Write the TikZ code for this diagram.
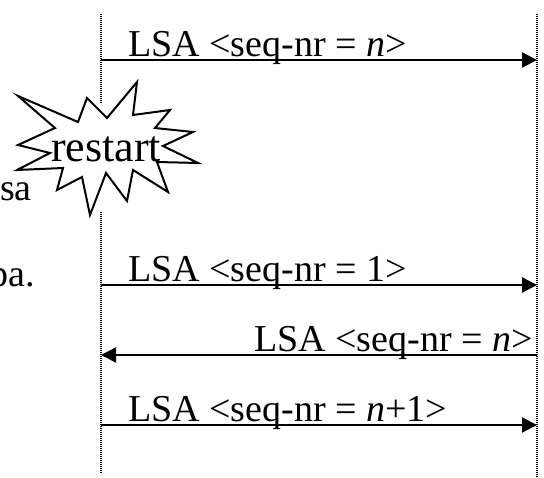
\documentclass[tikz,border=0pt]{standalone}
\usepackage{fontspec}
\setmainfont{Liberation Serif}
\usetikzlibrary{arrows.meta}
\begin{document}
\begin{tikzpicture}[x=1pt,y=-1pt,
  msg/.style={line width=2.2pt, -{Triangle[length=15pt,width=15pt]}},
  lbl/.style={font=\fontsize{38}{40}\selectfont, inner sep=0pt},
  life/.style={line width=2pt, dash pattern=on 1pt off 1pt},
  burst/.style={draw, fill=white, line width=2pt, line join=miter}]
\useasboundingbox (0,0) rectangle (544,478);
% lifelines
\coordinate (LT) at (101,14);
\coordinate (LG1) at (101,104);
\coordinate (LG2) at (101,212);
\coordinate (LB) at (101,473);
\coordinate (RT) at (537,14);
\coordinate (RB) at (537,478);
\draw[life] (LT) -- (LG1);
\draw[life] (LG2) -- (LB);
\draw[life] (RT) -- (RB);
% message end points
\coordinate (a1) at (101,60);  \coordinate (b1) at (537,60);
\coordinate (a2) at (101,285); \coordinate (b2) at (537,285);
\coordinate (a3) at (101,355); \coordinate (b3) at (537,355);
\coordinate (a4) at (101,425); \coordinate (b4) at (537,425);
\draw[msg] (a1) -- (b1);
\draw[msg] (a2) -- (b2);
\draw[msg] (b3) -- (a3);
\draw[msg] (a4) -- (b4);
\node[lbl, anchor=base west] (m1) at (128,57) {LSA <seq-nr = \textit{n}>};
\node[lbl, anchor=base west] (m2) at (128,282) {LSA <seq-nr = 1>};
\node[lbl, anchor=base east] (m3) at (533,352) {LSA <seq-nr = \textit{n}>};
\node[lbl, anchor=base west] (m4) at (128,422) {LSA <seq-nr = \textit{n}+1>};
% side text (cut off at left, as in the reference)
\node[lbl, anchor=base east] (t1) at (32,201) {sa};
\node[lbl, anchor=base east] (t2) at (35,287) {pa.};
% starburst
\draw[burst] (18,96) -- (78,122) -- (87,98) -- (107,118) -- (137,82) -- (133,115)
  -- (170,110) -- (155,128) -- (193,132) -- (163,146) -- (198,163) -- (157,162)
  -- (168,192) -- (133,170) -- (127,201) -- (106,173) -- (90,215) -- (82,177)
  -- (57,190) -- (63,168) -- (17,170) -- (50,153) -- (18,145) -- (55,128) -- cycle;
\node[inner sep=0pt, font=\fontsize{44}{46}\selectfont, anchor=base] (rs) at (106,162) {restart};
\end{tikzpicture}
\end{document}
